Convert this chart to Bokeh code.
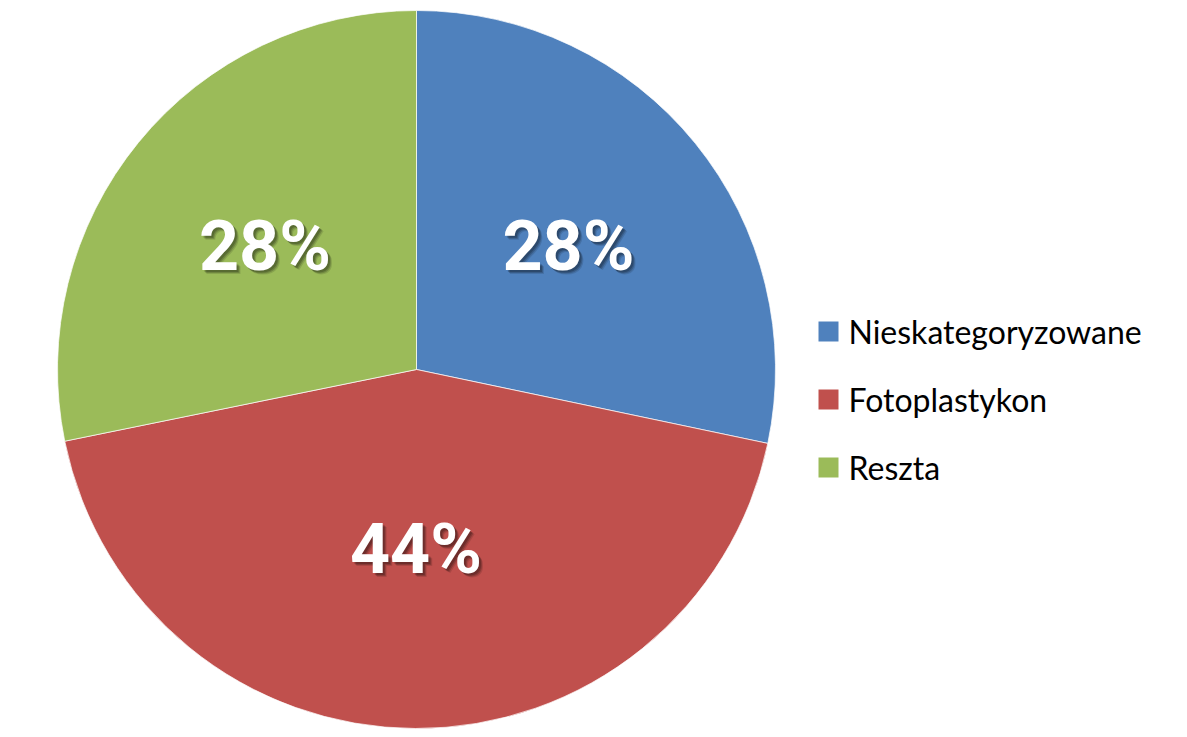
import numpy as np
from bokeh.plotting import figure
from bokeh.models import Range1d, ColumnDataSource
from bokeh.core.properties import value
from bokeh.embed import file_html
from bokeh.resources import INLINE

# ---- data ----
categories = ["Nieskategoryzowane", "Fotoplastykon", "Reszta"]
shares = [28.3, 43.5, 28.2]          # percent
colors = ["#4F81BD", "#C0504D", "#9BBB59"]

W, H = 1155, 729
# data coords = screen pixel coords of the picture (y flipped)
p = figure(width=W, height=H, output_backend="svg", toolbar_location=None,
           x_range=Range1d(0, W), y_range=Range1d(737 - H, 737),
           min_border=0, outline_line_color=None)
p.axis.visible = False
p.grid.visible = False
p.background_fill_color = "white"
p.border_fill_color = "white"

cx, cy, R = 416, 737 - 369, 359
vals = np.array(shares, dtype=float)
ang = vals / vals.sum() * 2 * np.pi
ends = np.pi / 2 - np.cumsum(ang)
starts = ends + ang
mids = (starts + ends) / 2

src = ColumnDataSource(dict(cat=categories, start=starts, end=ends, color=colors))
p.wedge(x=cx, y=cy, radius=R, start_angle="start", end_angle="end",
        direction="clock", fill_color="color", line_color="white",
        line_alpha=0.7, line_width=1, source=src)

# labels
label_r = np.array([0.545, 0.50, 0.545]) * R
lx = cx + label_r * np.cos(mids)
ly = cy + label_r * np.sin(mids)
labels = [f"{round(v)}%" for v in vals / vals.sum() * 100]
font = "Roboto"
fs = "70px"
for dx, dy, a in [(4, -4, 0.12), (3, -3, 0.18), (2, -2, 0.2)]:
    p.text(x=lx + dx, y=ly + dy, text=labels, text_font=value(font),
           text_font_style="bold", text_font_size=fs, text_color="black",
           text_alpha=a, text_align="center", text_baseline="middle")
p.text(x=lx, y=ly, text=labels, text_font=value(font),
       text_font_style="bold", text_font_size=fs, text_color="white",
       text_align="center", text_baseline="middle")

# legend
leg_y = 737 - np.array([331, 399, 467])
p.rect(x=828, y=leg_y, width=20, height=20, fill_color=colors, line_color=None)
p.text(x=848, y=leg_y, text=categories, text_font=value("Lato"),
       text_font_size="32px", text_color="black", text_align="left",
       text_baseline="middle")

open("out.html", "w").write(file_html(p, INLINE))
